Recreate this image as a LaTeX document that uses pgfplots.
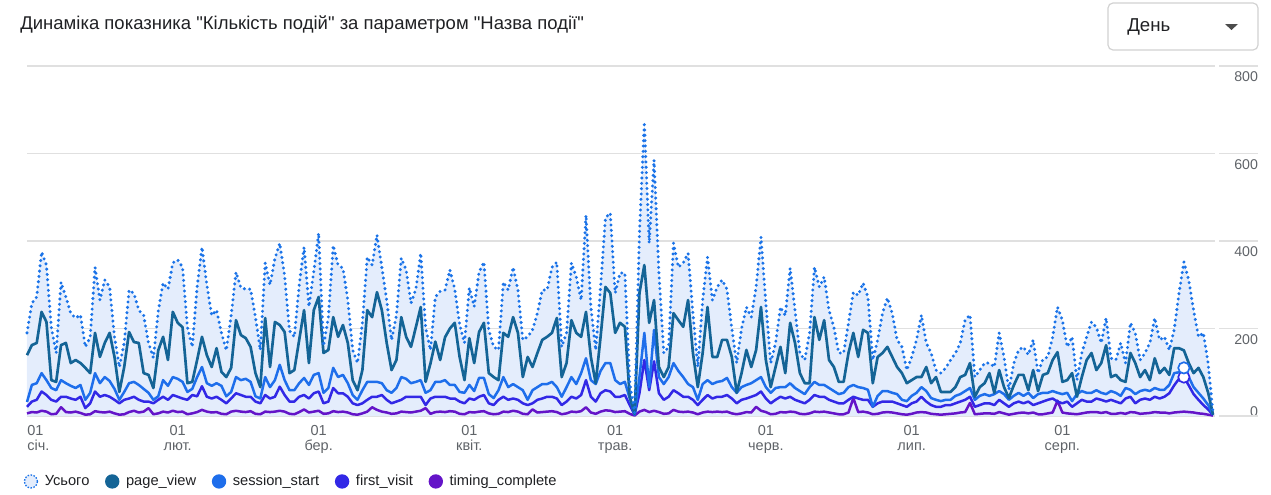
\documentclass[border=0pt]{standalone}
\usepackage{pgfplots}
\pgfplotsset{compat=1.18}
\usepackage{pgfplotstable}
\usepackage{fontspec}
\setmainfont{Liberation Sans}[Ligatures=TeXOff]

\definecolor{totc}{RGB}{26,115,232}
\definecolor{totfill}{RGB}{228,237,252}
\definecolor{pvc}{RGB}{20,100,150}
\definecolor{ssc}{RGB}{30,110,235}
\definecolor{fvc}{RGB}{50,40,230}
\definecolor{tcc}{RGB}{100,20,200}
\definecolor{gridc}{RGB}{224,224,224}
\definecolor{txtc}{RGB}{95,99,104}
\definecolor{titlec}{RGB}{32,33,36}

% day index (0 = 1 Jan), total, page_view, session_start, first_visit, timing_complete
\pgfplotstableread{
d tot pv ss fv tc
0 190 139 32 21 6
1 258 162 71 33 9
2 272 167 75 37 8
3 375 238 98 56 12
4 345 215 82 48 10
5 203 82 64 37 4
6 144 78 59 33 5
7 306 162 82 44 20
8 272 167 75 44 9
9 235 121 69 40 8
10 224 128 64 37 10
11 231 121 71 44 7
12 158 110 37 18 3
13 180 98 53 29 4
14 340 190 98 56 11
15 265 135 75 44 9
16 311 167 89 48 8
17 295 190 80 44 10
18 181 135 62 37 6
19 112 55 37 29 3
20 167 112 55 37 4
21 288 192 75 40 9
22 280 169 78 44 12
23 242 167 71 37 8
24 230 98 62 33 10
25 167 94 53 33 18
26 133 64 37 29 4
27 240 150 45 37 6
28 304 181 82 44 10
29 290 128 69 37 8
30 350 238 89 48 12
31 357 213 85 44 9
32 340 203 78 40 10
33 203 75 55 37 4
34 158 78 62 48 6
35 295 128 89 45 9
36 386 181 112 68 14
37 300 139 75 44 10
38 230 112 69 40 8
39 242 155 75 44 9
40 190 101 69 37 5
41 150 89 45 29 4
42 230 110 55 40 10
43 329 219 89 52 12
44 293 185 82 48 10
45 290 178 85 44 9
46 290 158 78 44 11
47 226 98 45 33 5
48 151 66 40 29 4
49 350 224 89 48 10
50 300 112 66 40 9
51 360 215 82 44 10
52 395 208 117 67 12
53 320 192 82 48 10
54 195 98 59 33 5
55 181 105 59 33 4
56 300 174 75 44 9
57 386 242 87 48 15
58 250 121 71 40 8
59 330 242 94 52 10
60 418 272 98 56 12
61 160 144 53 29 5
62 226 151 64 33 6
63 390 226 110 64 11
64 345 181 89 52 9
65 338 208 94 52 10
66 265 167 75 44 8
67 151 82 48 29 4
68 121 59 37 25 3
69 213 105 59 29 6
70 363 242 78 37 10
71 345 226 78 44 20
72 414 283 78 44 14
73 340 242 75 48 10
74 265 167 59 37 8
75 174 105 53 29 5
76 230 128 64 33 6
77 361 226 89 37 10
78 334 181 85 44 9
79 258 158 75 44 8
80 290 203 78 44 10
81 372 249 82 44 12
82 203 78 53 25 18
83 151 120 59 40 5
84 272 170 78 44 9
85 285 128 78 44 10
86 288 180 82 44 9
87 334 200 71 40 11
88 290 213 71 40 10
89 210 135 55 33 5
90 167 82 53 29 4
91 293 178 71 40 9
92 250 121 57 37 8
93 329 192 87 44 10
94 352 213 87 48 11
95 197 98 50 29 6
96 158 89 41 25 4
97 151 82 59 37 5
98 306 190 89 44 10
99 288 181 66 37 9
100 340 226 73 40 12
101 288 190 66 37 10
102 174 89 59 29 5
103 181 135 37 25 4
104 197 112 59 29 15
105 235 144 66 37 8
106 288 174 73 40 9
107 288 181 73 44 10
108 340 190 78 44 11
109 352 224 66 40 9
110 158 89 44 25 4
111 190 121 66 33 6
112 350 219 89 44 10
113 318 190 73 40 9
114 265 181 98 48 11
115 459 238 132 82 20
116 249 135 82 44 8
117 151 75 73 33 5
118 295 181 103 52 10
119 453 295 121 59 13
120 464 281 121 56 12
121 281 190 82 44 9
122 327 213 73 44 10
123 327 204 78 48 11
124 75 44 40 25 5
125 7 5 3 3 1
126 418 281 89 52 10
127 672 345 190 128 14
128 395 213 66 59 9
129 585 265 197 125 12
130 327 112 89 52 9
131 144 89 73 37 5
132 158 112 89 44 6
133 395 235 121 59 14
134 340 219 103 52 10
135 350 204 89 44 9
136 372 265 73 44 10
137 235 144 66 37 8
138 112 66 37 25 4
139 265 144 73 37 8
140 363 249 82 48 10
141 265 135 73 40 9
142 295 135 78 44 10
143 311 174 80 44 9
144 290 174 87 48 10
145 200 135 66 40 6
146 121 53 53 29 4
147 200 98 66 37 6
148 249 151 71 40 9
149 226 112 75 44 8
150 295 151 82 48 21
151 409 249 89 56 12
152 258 128 66 40 9
153 121 66 53 29 4
154 167 112 64 37 5
155 249 158 66 44 9
156 230 98 66 40 8
157 338 213 75 44 10
158 242 167 64 37 9
159 144 98 57 33 5
160 128 75 50 29 4
161 190 75 66 37 6
162 340 226 78 48 10
163 295 174 71 44 9
164 318 219 71 44 10
165 242 128 64 37 8
166 203 112 57 33 6
167 144 78 50 29 4
168 144 78 53 29 4
169 213 144 66 37 8
170 283 190 71 44 41
171 276 135 66 40 9
172 304 197 64 37 10
173 272 190 60 37 8
174 128 75 21 21 4
175 174 135 46 29 5
176 235 144 57 33 8
177 270 158 57 33 9
178 235 135 53 33 8
179 174 112 50 29 6
180 158 98 37 25 4
181 105 75 34 21 3
182 135 82 46 29 5
183 174 89 53 33 8
184 231 89 66 44 9
185 167 112 57 33 8
186 144 75 41 25 5
187 105 89 37 21 4
188 98 55 34 21 3
189 110 55 37 25 4
190 128 55 37 25 5
191 144 66 46 29 6
192 167 89 50 33 8
193 220 94 57 37 9
194 231 121 64 44 30
195 89 44 37 21 4
196 105 66 46 25 5
197 121 75 50 29 6
198 121 98 46 29 6
199 112 53 50 25 5
200 190 105 57 37 9
201 135 66 50 29 6
202 60 41 37 21 3
203 120 70 46 29 5
204 151 94 53 33 7
205 158 94 46 29 8
206 140 59 53 33 6
207 174 105 41 25 8
208 98 57 50 29 4
209 130 94 53 33 4
210 135 98 53 37 6
211 181 128 57 40 8
212 249 146 53 33 35
213 219 78 50 29 8
214 158 82 53 33 6
215 181 98 34 21 5
216 82 44 50 29 4
217 144 89 57 37 6
218 181 128 53 33 8
219 215 144 53 33 9
220 203 105 59 40 9
221 167 121 53 37 7
222 224 162 50 33 9
223 132 89 57 37 5
224 128 94 53 33 5
225 167 82 46 29 7
226 121 78 64 40 5
227 213 144 60 44 9
228 190 121 50 29 8
229 128 89 57 37 5
230 144 105 60 40 6
231 167 82 57 37 7
232 224 132 64 44 9
233 174 98 60 40 8
234 181 110 60 44 8
235 151 94 71 52 6
236 197 155 98 70 8
237 281 155 100 85 9
238 352 150 110 89 10
239 311 121 89 70 9
240 242 98 66 50 8
241 181 110 53 37 6
242 190 89 40 25 5
243 120 53 25 15 3
244 5 3 3 2 1
}\events

\begin{document}
\begin{tikzpicture}
\begin{scope}[x=0.6pt,y=0.6pt]
  \useasboundingbox (0,0) rectangle (1271,494);
  \node[anchor=west, inner sep=0pt, text=titlec, font=\fontsize{11.1}{13}\selectfont]
    at (20,469) {Динаміка показника "Кількість подій" за параметром "Назва події"};
  \draw[rounded corners=3pt, draw=black!18, line width=0.7pt] (1108,491) rectangle (1258,444);
  \node[anchor=west, inner sep=0pt, text=titlec, font=\fontsize{11.2}{13}\selectfont] at (1127,467) {День};
  \fill[black!70] (1225,470) -- (1238,470) -- (1231.5,464) -- cycle;
\end{scope}

\begin{axis}[
  at={(16.2pt,46.8pt)}, anchor=south west,
  scale only axis, width=712.8pt, height=210pt,
  xmin=0, xmax=244.4, ymin=0, ymax=800,
  axis line style={draw=none},
  major tick length=0pt,
  clip=false,
  ytick={200,400,600,800},
  yticklabel pos=right,
  ymajorgrids,
  grid style={gridc, line width=0.7pt},
  extra y ticks={0},
  extra y tick style={grid=major, yticklabel style={anchor=south east, yshift=3pt}},
  yticklabel style={anchor=north east, xshift=26pt, yshift=-3.3pt, inner sep=0pt,
    text=txtc, font=\fontsize{8.5}{9}\selectfont},
  /pgf/number format/assume math mode=true,
  xtick={31,60,91,121,152,182,213},
  xticklabels={01\\лют., 01\\бер., 01\\квіт., 01\\трав., 01\\черв., 01\\лип., 01\\серп.},
  extra x ticks={0},
  extra x tick labels={01\\січ.},
  extra x tick style={xticklabel style={anchor=north west, align=left, xshift=-1pt}},
  xticklabel style={align=center, text=txtc, inner sep=1pt, yshift=-4.4pt,
    font=\fontsize{8.7}{9.2}\selectfont},
  legend style={at={(axis description cs:-0.003,-0.187)}, anchor=west,
    draw=none, fill=none, text=titlec, font=\fontsize{8.8}{10}\selectfont,
    /tikz/every odd column/.append style={column sep=2pt},
    /tikz/every even column/.append style={column sep=7.4pt},
    inner sep=0pt},
  legend columns=-1,
  legend image code/.code={\draw[line width=0.8pt,#1] (4pt,0pt) circle (3.9pt);},
]
\addplot[fill=totfill, draw=none, forget plot] table[x=d,y=tot]{\events} \closedcycle;
\addplot[tcc, line width=1.5pt, line join=round, forget plot] table[x=d,y=tc]{\events};
\addplot[fvc, line width=1.5pt, line join=round, forget plot] table[x=d,y=fv]{\events};
\addplot[ssc, line width=1.5pt, line join=round, forget plot] table[x=d,y=ss]{\events};
\addplot[pvc, line width=1.6pt, line join=round, forget plot] table[x=d,y=pv]{\events};
\addplot[totc, line width=2pt, line cap=round, line join=round,
  dash pattern=on 0pt off 3.2pt, forget plot] table[x=d,y=tot]{\events};

% hover markers on the last peak
\addplot[only marks, mark=*, mark size=3.4pt, forget plot,
  mark options={fill=white, draw=fvc, line width=1pt}] coordinates {(238,89)};
\addplot[only marks, mark=*, mark size=3.4pt, forget plot,
  mark options={fill=white, draw=ssc, line width=1pt}] coordinates {(238,110)};

\pgfplotsinvokeforeach{0,200,400,600,800}{
  \draw[gridc, line width=0.7pt] (axis cs:245.3,#1) -- (axis cs:253.2,#1);
}

\addlegendimage{draw=totc, fill=totfill, dash pattern=on 0.9pt off 0.9pt}
\addlegendentry{Усього}
\addlegendimage{draw=pvc, fill=pvc}
\addlegendentry{page\_view}
\addlegendimage{draw=ssc, fill=ssc}
\addlegendentry{session\_start}
\addlegendimage{draw=fvc, fill=fvc}
\addlegendentry{first\_visit}
\addlegendimage{draw=tcc, fill=tcc}
\addlegendentry{timing\_complete}
\end{axis}
\end{tikzpicture}
\end{document}
